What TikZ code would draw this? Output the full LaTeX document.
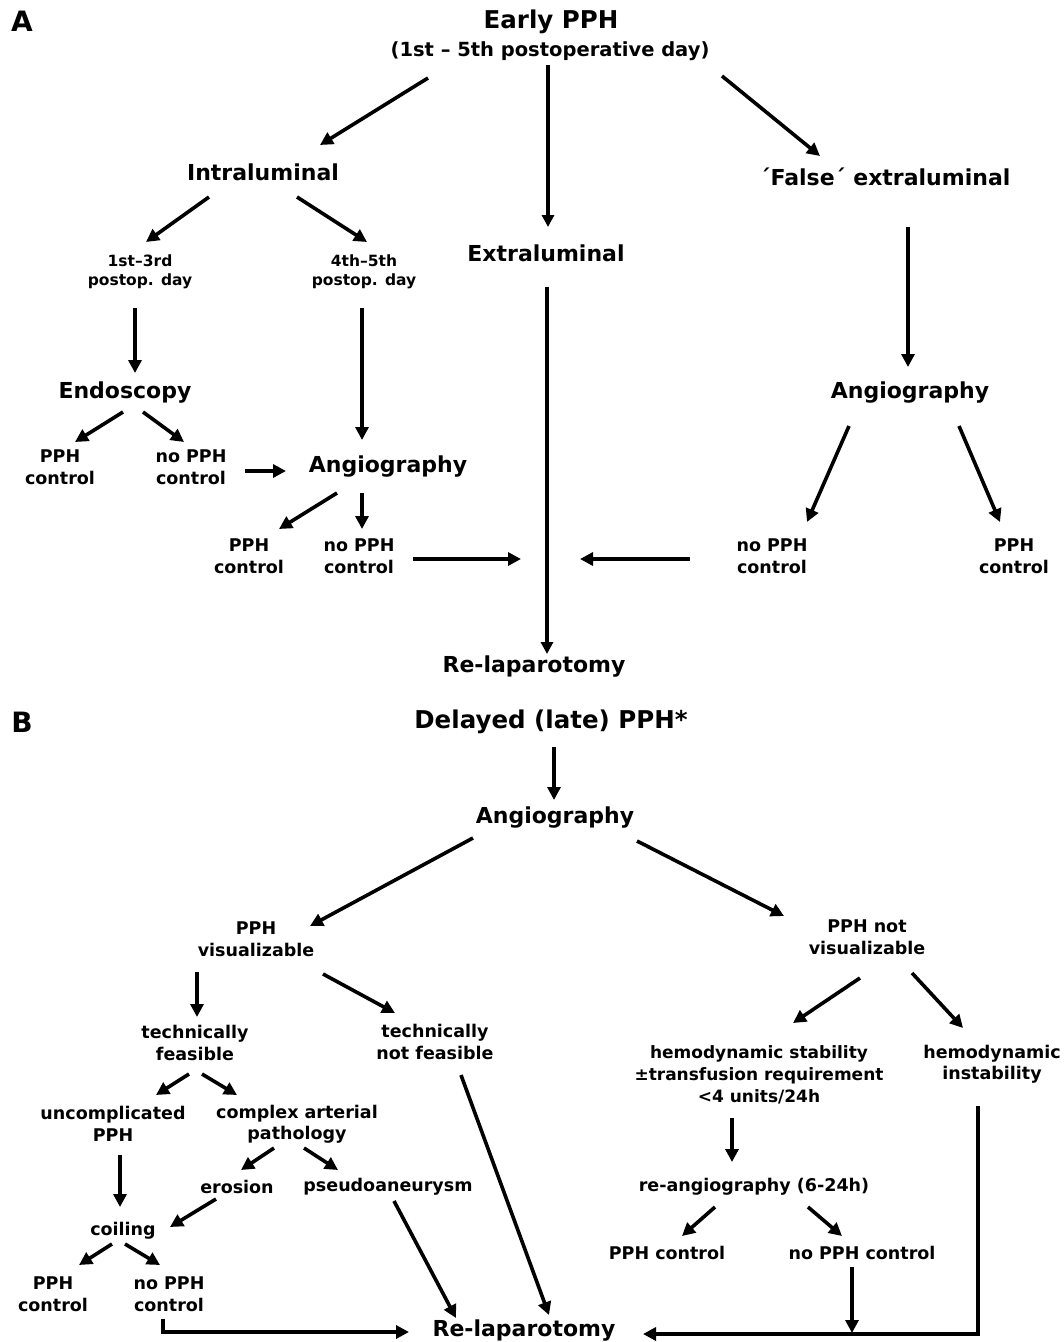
\documentclass[tikz,border=0pt]{standalone}
\usepackage{fontspec}
\setmainfont{DejaVu Sans}
\usetikzlibrary{arrows.meta,calc}
\begin{document}
\begin{tikzpicture}[x=1pt,y=-1pt,
 every node/.style={inner sep=0pt, align=center},
 lab/.style={font=\bfseries\fontsize{28}{32}\selectfont},
 tl/.style={font=\bfseries\fontsize{24.5}{29}\selectfont},
 sub/.style={font=\bfseries\fontsize{19.5}{23}\selectfont},
 md/.style={font=\bfseries\fontsize{22}{26}\selectfont},
 sm/.style={font=\bfseries\fontsize{17.5}{21.5}\selectfont},
 xs/.style={font=\bfseries\fontsize{15.5}{19}\selectfont},
 arr/.style={line width=3.6pt, -{Triangle[length=13pt,width=13pt]}},
 thinarr/.style={line width=3.1pt, -{Triangle[length=12pt,width=12pt]}},
 ln/.style={line width=3.6pt}]
\useasboundingbox (0,0) rectangle (1064,1342);
\fill[white] (0,0) rectangle (1064,1342);

% ---------------- Panel A ----------------
\node[lab] (labA) at (22,21) {A};
\node[tl] (early) at (551,22) {Early PPH};
\node[sub] (esub) at (550,51) {(1st – 5th postoperative day)};
\node[md] (intra) at (263,172) {Intraluminal};
\node[md] (false) at (885,177) {´False´ extraluminal};
\node[md] (extra) at (546,253) {Extraluminal};
\node[xs] (d13) at (140,272) {1st–3rd\\postop. day};
\node[xs] (d45) at (364,272) {4th–5th\\postop. day};
\node[md] (endo) at (125,393) {Endoscopy};
\node[sm] (ctlA1) at (60,467) {PPH\\control};
\node[sm] (nctlA1) at (191,467) {no PPH\\control};
\node[md] (angA) at (388,467) {Angiography};
\node[sm] (ctlA2) at (249,556) {PPH\\control};
\node[sm] (nctlA2) at (359,556) {no PPH\\control};
\node[md] (angR) at (910,393) {Angiography};
\node[sm] (nctlR) at (772,556) {no PPH\\control};
\node[sm] (ctlR) at (1014,556) {PPH\\control};
\node[md] (relapA) at (534,667) {Re-laparotomy};
\coordinate (jL) at (521,559);
\coordinate (jR) at (580,559);

\draw[arr] ($(esub)+(-122,27)$) -- ($(intra)+(57,-27)$);
\draw[thinarr] ($(esub)+(-2,14)$) -- ($(extra)+(2,-26)$);
\draw[arr] ($(esub)+(172,25)$) -- ($(false)+(-65,-21)$);
\draw[arr] ($(intra)+(-54,25)$) -- ($(d13)+(6,-30)$);
\draw[arr] ($(intra)+(34,25)$) -- ($(d45)+(3,-30)$);
\draw[arr] ($(d13)+(-5,36)$) -- ($(endo)+(10,-20)$);
\draw[arr] ($(d45)+(-2,36)$) -- ($(angA)+(-26,-27)$);
\draw[arr] ($(endo)+(-2,19)$) -- ($(ctlA1)+(15,-25)$);
\draw[arr] ($(endo)+(18,19)$) -- ($(nctlA1)+(-7,-25)$);
\draw[arr] ($(nctlA1)+(54,4)$) -- ($(angA)+(-102,4)$);
\draw[arr] ($(angA)+(-51,26)$) -- ($(ctlA2)+(30,-27)$);
\draw[arr] ($(angA)+(-26,26)$) -- ($(nctlA2)+(3,-27)$);
\draw[thinarr] ($(extra)+(1,34)$) -- ($(relapA)+(13,-13)$);
\draw[arr] ($(nctlA2)+(54,3)$) -- (jL);
\draw[arr] ($(nctlR)+(-82,3)$) -- (jR);
\draw[arr] ($(false)+(23,50)$) -- ($(angR)+(-2,-26)$);
\draw[arr] ($(angR)+(-61,33)$) -- ($(nctlR)+(35,-34)$);
\draw[arr] ($(angR)+(49,33)$) -- ($(ctlR)+(-14,-34)$);

% ---------------- Panel B ----------------
\node[lab] (labB) at (22,722) {B};
\node[tl] (delayed) at (551,722) {Delayed (late) PPH*};
\node[md] (angB) at (555,818) {Angiography};
\node[sm] (vis) at (256,939) {PPH\\visualizable};
\node[sm] (nvis) at (867,937) {PPH not\\visualizable};
\node[sm] (tf) at (195,1043) {technically\\feasible};
\node[sm] (tnf) at (435,1042) {technically\\not feasible};
\node[sm, font=\bfseries\fontsize{17}{22}\selectfont] (hs) at (759,1075) {hemodynamic stability\\±transfusion requirement\\<4 units/24h};
\node[sm] (hi) at (992,1064) {hemodynamic\\instability};
\node[sm] (unc) at (113,1124) {uncomplicated\\PPH};
\node[sm] (cap) at (297,1124) {complex arterial\\pathology};
\node[sm] (ero) at (237,1187) {erosion};
\node[sm] (pse) at (388,1187) {pseudoaneurysm};
\node[sm] (coil) at (123,1231) {coiling};
\node[sm] (ctlB1) at (53,1294) {PPH\\control};
\node[sm] (nctlB1) at (169,1294) {no PPH\\control};
\node[sm] (reang) at (754,1187) {re-angiography (6-24h)};
\node[sm] (ctlB2) at (667,1253) {PPH control};
\node[sm] (nctlB2) at (862,1253) {no PPH control};
\node[md] (relapB) at (524,1330) {Re-laparotomy};

\draw[arr] ($(delayed)+(3,25)$) -- ($(angB)+(-1,-18)$);
\draw[arr] ($(angB)+(-82,20)$) -- ($(vis)+(54,-13)$);
\draw[arr] ($(angB)+(82,23)$) -- ($(nvis)+(-83,-21)$);
\draw[arr] ($(vis)+(-59,33)$) -- ($(tf)+(2,-26)$);
\draw[arr] ($(vis)+(67,35)$) -- ($(tnf)+(-40,-29)$);
\draw[arr] ($(nvis)+(-7,41)$) -- ($(hs)+(34,-52)$);
\draw[arr] ($(nvis)+(45,36)$) -- ($(hi)+(-29,-36)$);
\draw[arr] ($(tf)+(-6,31)$) -- ($(unc)+(43,-29)$);
\draw[arr] ($(tf)+(7,31)$) -- ($(cap)+(-60,-29)$);
\draw[arr] ($(unc)+(7,31)$) -- ($(coil)+(-3,-24)$);
\draw[arr] ($(cap)+(-23,24)$) -- ($(ero)+(4,-17)$);
\draw[arr] ($(cap)+(7,24)$) -- ($(pse)+(-50,-17)$);
\draw[arr] ($(ero)+(-21,12)$) -- ($(coil)+(47,-4)$);
\draw[arr] ($(coil)+(-11,13)$) -- ($(ctlB1)+(26,-29)$);
\draw[arr] ($(coil)+(2,13)$) -- ($(nctlB1)+(-9,-29)$);
\draw[arr] ($(nctlB1)+(-6,25)$) |- ($(relapB)+(-115,2)$);
\draw[arr] ($(pse)+(6,14)$) -- ($(relapB)+(-68,-12)$);
\draw[arr] ($(tnf)+(26,33)$) -- ($(relapB)+(25,-15)$);
\draw[arr] ($(hs)+(-27,43)$) -- ($(reang)+(-22,-25)$);
\draw[arr] ($(reang)+(-39,20)$) -- ($(ctlB2)+(15,-17)$);
\draw[arr] ($(reang)+(54,20)$) -- ($(nctlB2)+(-20,-17)$);
\draw[arr] ($(hi)+(-14,42)$) |- ($(relapB)+(119,4)$);
\draw[arr] ($(nctlB2)+(-10,14)$) -- ($(relapB)+(328,3)$);
\end{tikzpicture}
\end{document}
